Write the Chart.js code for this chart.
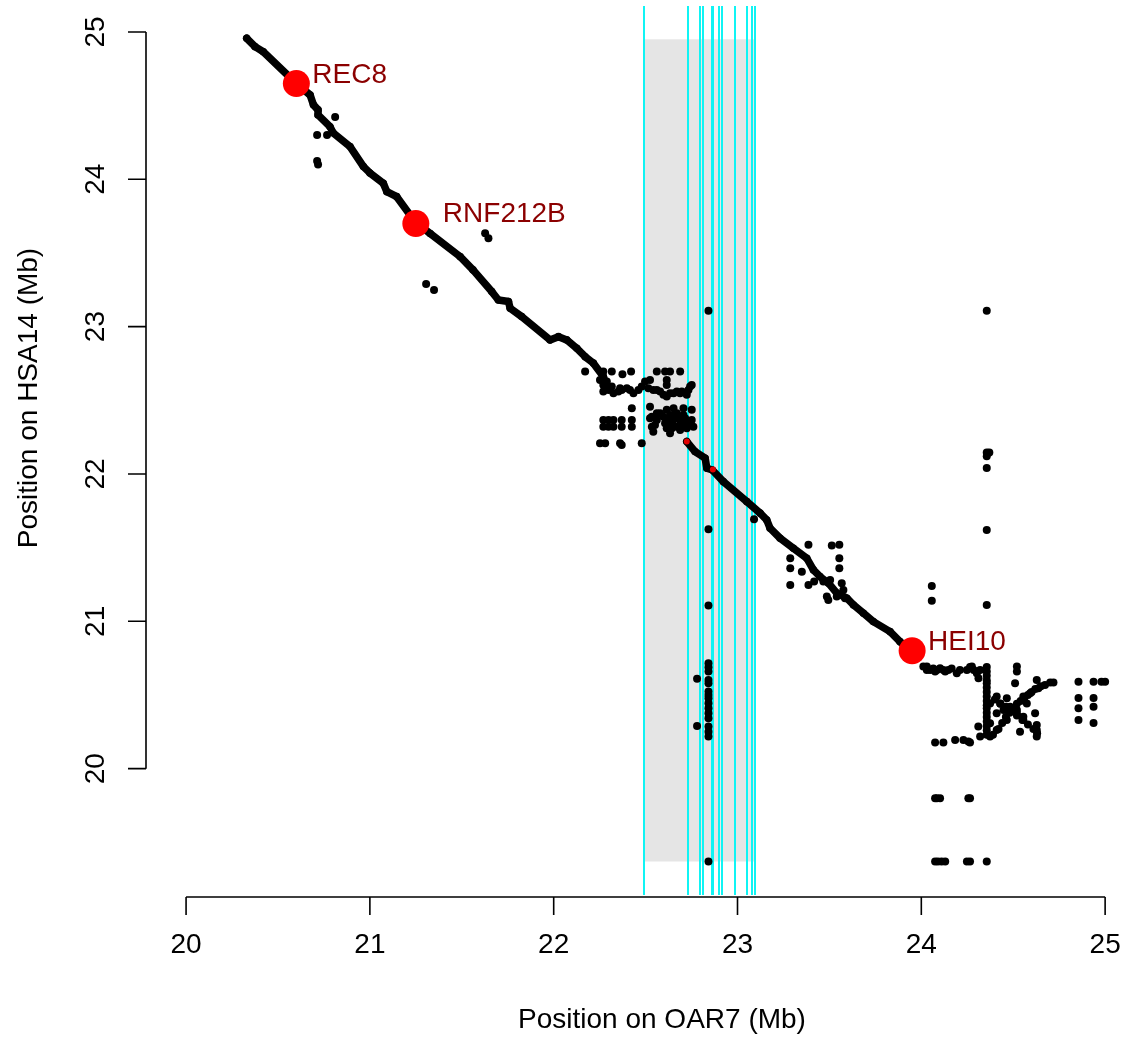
<!DOCTYPE html>
<html><head><meta charset="utf-8">
<script src="https://cdn.jsdelivr.net/npm/chart.js@4/dist/chart.umd.min.js"></script>
<style>html,body{margin:0;padding:0;background:#fff;}canvas{display:block;}</style>
</head><body>
<canvas id="c" width="1127" height="1040"></canvas>
<script>
// ---- axis ticks & titles ----
const xTicks = [20, 21, 22, 23, 24, 25];
const yTicks = [20, 21, 22, 23, 24, 25];
const xTitle = 'Position on OAR7 (Mb)';
const yTitle = 'Position on HSA14 (Mb)';

// ---- highlighted region & cyan marker positions (OAR7, Mb) ----
const regionX = [22.492, 23.096];
const regionY = [19.37, 24.95];
const markerX = [22.492, 22.730, 22.797, 22.815, 22.860, 22.869, 22.902, 22.916, 22.987, 23.054, 23.078, 23.096];

// ---- genes ----
const geneNames = ['REC8', 'RNF212B', 'HEI10'];
const geneX = [20.60, 21.25, 23.95];
const geneY = [24.65, 23.70, 20.80];

// ---- red marker points on the synteny line ----
const redX = [22.724, 22.866];
const redY = [22.22, 22.03];

// ---- main synteny line (dense points) ----
const mainAX = [20.33, 20.375, 20.42, 20.6, 20.675, 20.693, 20.718, 20.718, 20.783, 20.8, 20.892, 20.965, 21.0, 21.073, 21.092, 21.146, 21.246, 21.328, 21.491, 21.561, 21.663, 21.699, 21.754, 21.763, 21.826, 21.98, 22.026, 22.071, 22.126, 22.171, 22.216, 22.27, 22.289];
const mainAY = [24.957, 24.9, 24.866, 24.65, 24.572, 24.505, 24.471, 24.437, 24.357, 24.315, 24.222, 24.086, 24.043, 23.973, 23.916, 23.882, 23.711, 23.632, 23.475, 23.385, 23.238, 23.181, 23.17, 23.125, 23.068, 22.91, 22.932, 22.91, 22.853, 22.796, 22.752, 22.661, 22.593];
const mainBX = [22.724, 22.769, 22.824, 22.833, 22.863, 22.923, 23.051, 23.123, 23.159, 23.177, 23.232, 23.304, 23.377, 23.413, 23.449, 23.495, 23.54, 23.595, 23.631, 23.685, 23.739, 23.83, 23.884, 23.939];
const mainBY = [22.22, 22.152, 22.107, 22.039, 22.027, 21.948, 21.812, 21.734, 21.688, 21.632, 21.564, 21.496, 21.428, 21.349, 21.303, 21.259, 21.191, 21.157, 21.111, 21.055, 20.998, 20.93, 20.862, 20.794];

// ---- scattered hits [OAR7, HSA14] ----
const hitsTop = [[20.811,24.423],[20.713,24.30],[20.767,24.30],[20.713,24.124],[20.718,24.10],[21.306,23.29],[21.349,23.249],[21.627,23.634],[21.645,23.60],[22.842,23.107],[24.356,23.107]];
const hitsCluster = [
 [22.171,22.695],[22.27,22.695],[22.316,22.695],[22.374,22.677],[22.421,22.695],[22.561,22.695],[22.606,22.695],[22.633,22.695],[22.688,22.695],
 [22.252,22.638],[22.27,22.604],[22.27,22.559],[22.289,22.627],[22.298,22.57],[22.316,22.593],[22.325,22.548],[22.352,22.559],[22.361,22.582],[22.37,22.57],[22.398,22.582],[22.415,22.57],[22.434,22.548],[22.461,22.57],[22.479,22.593],[22.497,22.627],[22.515,22.582],[22.524,22.638],[22.542,22.57],[22.561,22.57],[22.579,22.559],[22.597,22.537],[22.615,22.525],[22.615,22.638],[22.615,22.604],[22.633,22.548],[22.652,22.548],[22.67,22.559],[22.688,22.548],[22.697,22.559],[22.733,22.57],[22.751,22.604],[22.742,22.593],[22.724,22.537],
 [22.425,22.446],[22.524,22.457],[22.615,22.435],[22.652,22.446],[22.706,22.446],[22.751,22.435],
 [22.561,22.412],[22.633,22.401],[22.67,22.412],
 [22.27,22.367],[22.298,22.367],[22.325,22.367],[22.37,22.367],[22.425,22.367],[22.524,22.378],[22.561,22.367],[22.615,22.367],[22.67,22.389],[22.688,22.367],[22.715,22.378],[22.751,22.367],
 [22.27,22.321],[22.298,22.321],[22.325,22.321],[22.37,22.321],[22.425,22.321],[22.534,22.321],[22.615,22.311],[22.67,22.321],[22.724,22.311],[22.76,22.321],
 [22.542,22.287],[22.633,22.276],[22.688,22.299],[22.697,22.344],[22.643,22.355],[22.652,22.33],
 [22.534,22.389],[22.551,22.333],[22.579,22.412],[22.597,22.389],[22.606,22.344],[22.624,22.33],[22.643,22.31],[22.661,22.378],[22.679,22.321],[22.706,22.401],[22.715,22.333],[22.742,22.344],
 [22.252,22.209],[22.28,22.209],[22.361,22.209],[22.37,22.197],[22.479,22.209]
];
const hitsColumn = [
 [22.842,21.625],[22.842,21.107],[22.842,20.716],[22.842,20.689],[22.842,20.659],[22.842,20.602],[22.842,20.58],[22.842,20.523],[22.842,20.5],[22.842,20.478],[22.842,20.444],[22.842,20.41],[22.842,20.376],[22.842,20.342],[22.842,20.286],[22.842,20.251],[22.842,20.218],[22.842,19.37],[22.78,20.61],[22.78,20.29]
];
const hitsMid = [
 [23.09,21.693],[23.386,21.519],[23.513,21.514],[23.554,21.519],[23.287,21.428],[23.287,21.36],[23.554,21.428],[23.554,21.36],[23.287,21.247],[23.386,21.247],[23.417,21.27],[23.467,21.27],[23.504,21.281],[23.486,21.168],[23.494,21.145],[23.54,21.168],[23.567,21.259],[23.576,21.213],[23.585,21.157],[23.35,21.337]
];
const hitsRight = [
 [24.057,21.24],[24.057,21.14],[24.356,21.11],[24.356,21.62],[24.356,22.04],[24.356,22.12],[24.356,22.146],[24.37,22.146],
 [24.011,20.693],[24.03,20.67],[24.048,20.67],[24.065,20.68],[24.085,20.67],[24.102,20.682],[24.12,20.67],[24.147,20.67],[24.165,20.68],[24.193,20.647],[24.21,20.67],[24.248,20.67],[24.265,20.69],[24.275,20.693],[24.285,20.67],[24.302,20.647],[24.311,20.614],[24.32,20.67],[24.03,20.693],[24.075,20.66],[24.13,20.66],
 [24.356,20.69],[24.356,20.66],[24.356,20.63],[24.356,20.60],[24.356,20.58],[24.356,20.55],[24.356,20.52],[24.356,20.49],[24.356,20.46],[24.356,20.43],[24.356,20.41],[24.356,20.38],[24.356,20.35],[24.356,20.32],[24.356,20.29],[24.356,20.26],[24.356,20.23],
 [24.31,20.286],[24.32,20.218],[24.374,20.218],[24.41,20.376],[24.447,20.398],[24.483,20.421],[24.52,20.376],[24.465,20.33],[24.374,20.309],[24.41,20.263],[24.555,20.33],[24.537,20.251],[24.628,20.297],[24.628,20.263],[24.628,20.218],[24.619,20.376],[24.41,20.489],[24.465,20.478],[24.555,20.489],[24.592,20.512],[24.637,20.546],[24.673,20.568],[24.628,20.602],[24.701,20.584],[24.719,20.584],[24.429,20.443],[24.52,20.398],[24.574,20.443],[24.555,20.353],[24.374,20.443],[24.52,20.693],[24.52,20.66],[24.51,20.58],
 [24.39,20.23],[24.42,20.27],[24.44,20.31],[24.46,20.35],[24.48,20.38],[24.5,20.41],[24.52,20.44],[24.54,20.46],[24.56,20.48],[24.58,20.5],[24.6,20.52],[24.62,20.54],[24.65,20.56],
 [24.40,20.47],[24.43,20.44],[24.46,20.42],[24.49,20.39],[24.52,20.36],[24.55,20.33],[24.58,20.3],[24.61,20.27],[24.63,20.24],
 [24.075,20.177],[24.12,20.177],[24.184,20.195],[24.229,20.195],[24.265,20.177],[24.256,20.185],
 [24.075,19.80],[24.102,19.80],[24.085,19.80],[24.256,19.80],[24.265,19.80],
 [24.075,19.37],[24.09,19.37],[24.11,19.37],[24.13,19.37],[24.248,19.37],[24.265,19.37],[24.356,19.37],
 [24.855,20.59],[24.855,20.48],[24.855,20.41],[24.855,20.33],[24.937,20.59],[24.937,20.48],[24.937,20.42],[24.937,20.31],[24.98,20.59],[25.0,20.59]
];

// ---- build chart ----
const zip = (xs, ys) => xs.map((x, i) => ({x: x, y: ys[i]}));
const pairs = a => a.map(p => ({x: p[0], y: p[1]}));
const allHits = [].concat(pairs(hitsTop), pairs(hitsCluster), pairs(hitsColumn), pairs(hitsMid), pairs(hitsRight));

const FONT = '"Liberation Sans", Arial, Helvetica, sans-serif';
const FS = 28;
const labelStyle = {REC8: [16, -8], RNF212B: [27, -9], HEI10: [16, -9]};

const decor = {
  id: 'decor',
  beforeDatasetsDraw(chart) {
    const {ctx, chartArea: ca, scales: {x, y}} = chart;
    ctx.save();
    ctx.fillStyle = '#e5e5e5';
    const rx0 = x.getPixelForValue(regionX[0]), rx1 = x.getPixelForValue(regionX[1]);
    const ry0 = y.getPixelForValue(regionY[1]), ry1 = y.getPixelForValue(regionY[0]);
    ctx.fillRect(rx0, ry0, rx1 - rx0, ry1 - ry0);
    ctx.strokeStyle = '#10f4f4';
    ctx.lineWidth = 2;
    markerX.forEach(v => {
      const px = Math.round(x.getPixelForValue(v));
      ctx.beginPath();
      ctx.moveTo(px, ca.top);
      ctx.lineTo(px, ca.bottom - 2);
      ctx.stroke();
    });
    ctx.restore();
  },
  afterDraw(chart) {
    const {ctx, chartArea: ca, scales: {x, y}} = chart;
    ctx.save();
    ctx.strokeStyle = '#000';
    ctx.fillStyle = '#000';
    ctx.lineWidth = 1.6;
    // x axis
    const ax = ca.bottom;
    ctx.beginPath();
    ctx.moveTo(x.getPixelForValue(xTicks[0]), ax);
    ctx.lineTo(x.getPixelForValue(xTicks[xTicks.length - 1]), ax);
    xTicks.forEach(t => { const p = x.getPixelForValue(t); ctx.moveTo(p, ax); ctx.lineTo(p, ax + 18); });
    ctx.stroke();
    // y axis
    const ay = ca.left;
    ctx.beginPath();
    ctx.moveTo(ay, y.getPixelForValue(yTicks[0]));
    ctx.lineTo(ay, y.getPixelForValue(yTicks[yTicks.length - 1]));
    yTicks.forEach(t => { const p = y.getPixelForValue(t); ctx.moveTo(ay, p); ctx.lineTo(ay - 18, p); });
    ctx.stroke();
    ctx.font = FS + 'px ' + FONT;
    ctx.textAlign = 'center';
    ctx.textBaseline = 'middle';
    xTicks.forEach(t => ctx.fillText(String(t), x.getPixelForValue(t), 945));
    yTicks.forEach(t => {
      ctx.save();
      ctx.translate(96, y.getPixelForValue(t));
      ctx.rotate(-Math.PI / 2);
      ctx.fillText(String(t), 0, 0);
      ctx.restore();
    });
    ctx.fillText(xTitle, 662, 1020);
    ctx.save();
    ctx.translate(29, 398);
    ctx.rotate(-Math.PI / 2);
    ctx.fillText(yTitle, 0, 0);
    ctx.restore();
    // gene labels
    ctx.fillStyle = '#8b0000';
    ctx.textAlign = 'left';
    geneNames.forEach((g, i) => {
      const off = labelStyle[g];
      ctx.fillText(g, x.getPixelForValue(geneX[i]) + off[0], y.getPixelForValue(geneY[i]) + off[1]);
    });
    ctx.restore();
  }
};

const lineStyle = {
  showLine: true, borderColor: '#000', borderWidth: 7.5, borderCapStyle: 'round', borderJoinStyle: 'round',
  pointRadius: 3.8, pointBackgroundColor: '#000', pointBorderWidth: 0, tension: 0
};

new Chart(document.getElementById('c'), {
  type: 'scatter',
  data: {
    datasets: [
      {label: 'genes', data: zip(geneX, geneY), pointRadius: 13.5, pointBackgroundColor: '#ff0000', pointBorderWidth: 0},
      {label: 'red', data: zip(redX, redY), pointRadius: 3, pointBackgroundColor: '#e00000', pointBorderWidth: 0},
      Object.assign({label: 'mainA', data: zip(mainAX, mainAY)}, lineStyle),
      Object.assign({label: 'mainB', data: zip(mainBX, mainBY)}, lineStyle),
      {label: 'hits', data: allHits, pointRadius: 4, pointBackgroundColor: '#000', pointBorderWidth: 0}
    ]
  },
  options: {
    responsive: false,
    animation: false,
    devicePixelRatio: 1,
    layout: {autoPadding: false, padding: {left: 146, right: 0, top: 6, bottom: 143}},
    plugins: {legend: {display: false}, tooltip: {enabled: false}},
    scales: {
      x: {type: 'linear', min: 19.782, max: 25.119, display: false},
      y: {type: 'linear', min: 19.129, max: 25.176, display: false}
    }
  },
  plugins: [decor]
});
</script>
</body></html>
